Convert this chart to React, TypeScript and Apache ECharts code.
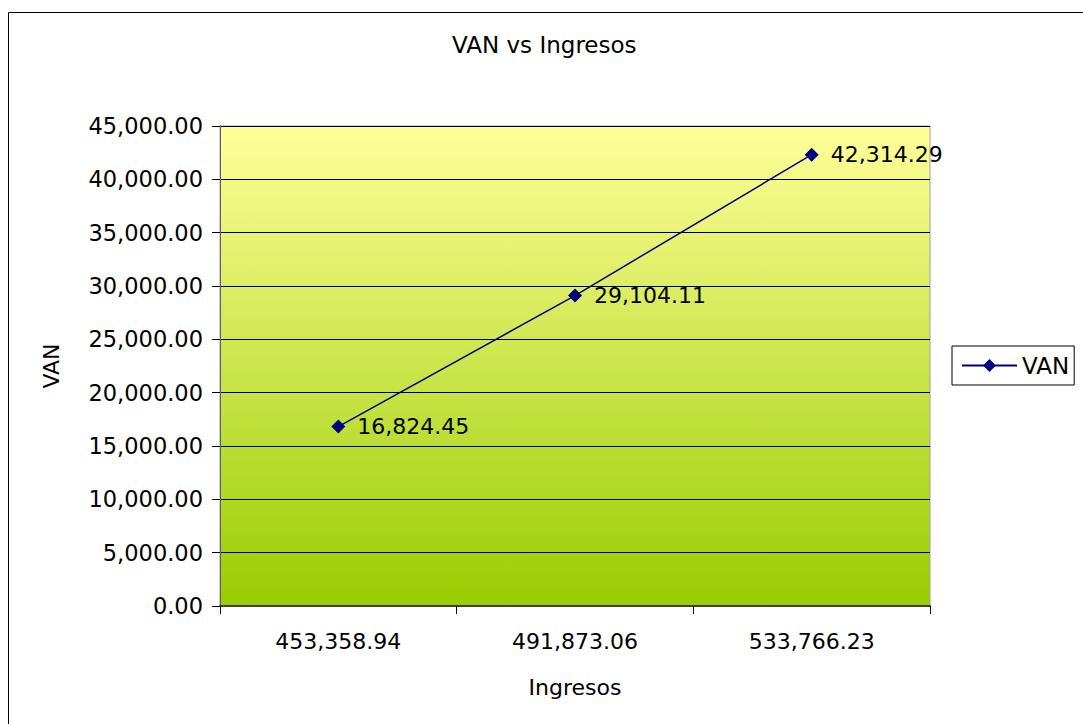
import React, { useEffect, useRef } from "react";
import * as echarts from "echarts";

const ingresos = [453358.94, 491873.06, 533766.23];
const van = [16824.45, 29104.11, 42314.29];
const seriesName = "VAN";
const titleText = "VAN vs Ingresos";
const xName = "Ingresos";
const yName = "VAN";

const fmt = (v: number) =>
  Number(v).toLocaleString("en-US", { minimumFractionDigits: 2, maximumFractionDigits: 2 });

const FONT = "DejaVu Sans";

export default function App() {
  const ref = useRef<HTMLDivElement>(null);
  useEffect(() => {
    if (!ref.current) return;
    const chart = echarts.init(ref.current, undefined, { renderer: "svg" });
    chart.setOption({
      animation: false,
      backgroundColor: "#ffffff",
      textStyle: { fontFamily: FONT, color: "#000" },
      title: {
        text: titleText,
        left: 452,
        top: 33,
        padding: 0,
        textStyle: { fontFamily: FONT, fontSize: 23, fontWeight: "normal", color: "#000" },
      },
      graphic: [
        {
          type: "rect",
          shape: { x: 8.5, y: 12.5, width: 1200, height: 800 },
          style: { fill: "none", stroke: "#000", lineWidth: 1 },
          silent: true,
          z: 100,
        },
      ],
      legend: {
        data: [seriesName],
        left: 952,
        top: 346,
        orient: "vertical",
        padding: [8, 5, 8, 9],
        itemWidth: 55,
        itemHeight: 16,
        backgroundColor: "#fff",
        borderColor: "#000",
        borderWidth: 1,
        textStyle: { fontFamily: FONT, fontSize: 23, color: "#000" },
      },
      grid: {
        left: 220,
        top: 126,
        right: 153,
        bottom: 118,
        show: true,
        borderColor: "#a0a0a0",
        borderWidth: 1,
        backgroundColor: new echarts.graphic.LinearGradient(0, 0, 0, 1, [
          { offset: 0, color: "#FFFF99" },
          { offset: 1, color: "#99CC00" },
        ]),
      },
      xAxis: {
        type: "category",
        data: ingresos.map(fmt),
        boundaryGap: true,
        name: xName,
        nameLocation: "middle",
        nameGap: 70,
        nameTextStyle: { fontFamily: FONT, fontSize: 22, color: "#000" },
        axisLine: { show: true, lineStyle: { color: "#404040", width: 2 } },
        axisTick: { show: true, inside: false, length: 8, interval: 0, lineStyle: { color: "#000" } },
        axisLabel: { margin: 24, fontFamily: FONT, fontSize: 22, color: "#000", interval: 0 },
        splitLine: { show: false },
      },
      yAxis: {
        type: "value",
        min: 0,
        max: 45000,
        interval: 5000,
        name: yName,
        nameLocation: "middle",
        nameGap: 158,
        nameTextStyle: { fontFamily: FONT, fontSize: 22, color: "#000" },
        axisLine: { show: true, lineStyle: { color: "#606060", width: 1 } },
        axisTick: { show: true, inside: false, length: 8, lineStyle: { color: "#000" } },
        axisLabel: {
          margin: 17,
          fontFamily: FONT,
          fontSize: 22.5,
          color: "#000",
          formatter: (v: number) => fmt(v),
        },
        splitLine: { show: true, lineStyle: { color: "#000", width: 1 } },
      },
      series: [
        {
          name: seriesName,
          type: "line",
          data: van,
          color: "#000080",
          lineStyle: { color: "#000080", width: 1.5 },
          itemStyle: { color: "#000080" },
          symbol: "diamond",
          symbolSize: 14,
          label: {
            show: true,
            position: "right",
            distance: 12,
            fontFamily: FONT,
            fontSize: 22,
            color: "#000",
            formatter: (p: any) => fmt(p.value),
          },
        },
      ],
    });
    return () => chart.dispose();
  }, []);
  return (
    <div
      ref={ref}
      style={{ position: "fixed", left: 0, top: 0, width: 1083, height: 724 }}
    />
  );
}
